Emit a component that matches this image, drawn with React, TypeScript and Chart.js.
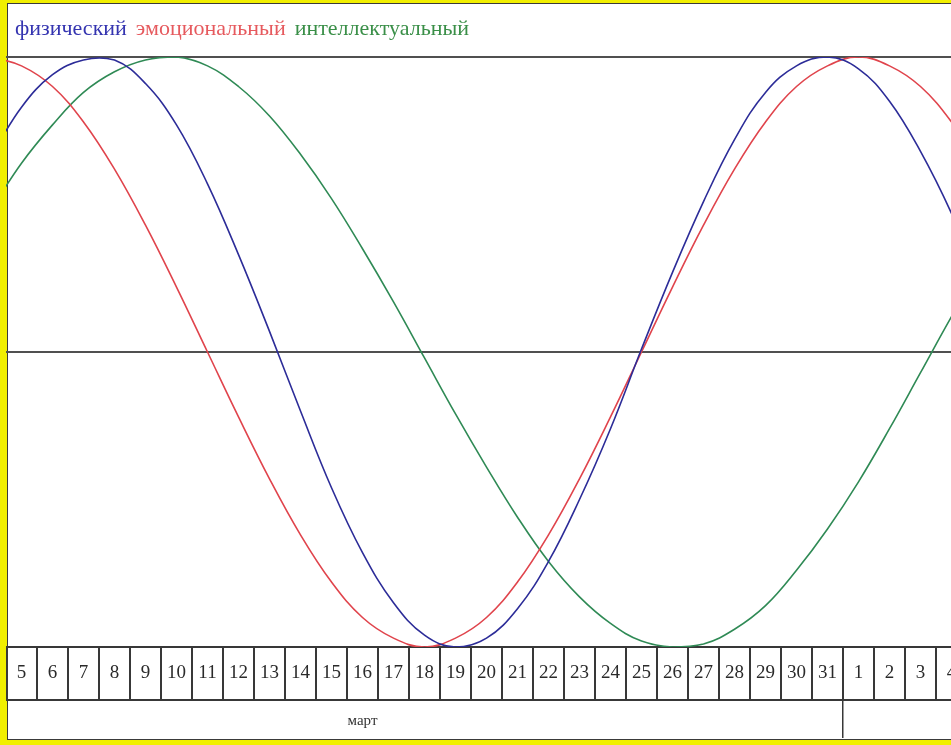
import React, { useEffect, useRef } from 'react';
import { Chart, registerables } from 'chart.js';

Chart.register(...registerables);

// Day cells shown under the chart (March 5 .. April 4)
const DAY_LABELS = [
  '5', '6', '7', '8', '9', '10', '11', '12', '13', '14', '15', '16', '17', '18', '19', '20',
  '21', '22', '23', '24', '25', '26', '27', '28', '29', '30', '31', '1', '2', '3', '4',
];
const MONTH_NAME = 'март';
const MONTH_CENTER_DAY = '16';
const NEXT_MONTH_FIRST_DAY = '1';

const SERIES_NAMES = ['физический', 'эмоциональный', 'интеллектуальный'];

// Values (in %) read per day, from March 4 (just left of the first cell) to April 5 (just right of the last)
const PHYSICAL = [
  66, 83, 94, 99, 99, 91, 77, 57, 33, 7, -20, -46, -68, -85, -96, -100, -97,
  -87, -71, -50, -26, 1, 27, 51, 72, 88, 97, 100, 96, 85, 68, 47, 22,
];
const EMOTIONAL = [
  100, 97, 90, 78, 62, 43, 22, 0, -22, -43, -62, -78, -90, -97, -100, -97, -90,
  -78, -62, -43, -22, 0, 22, 43, 62, 78, 90, 97, 100, 97, 90, 78, 62,
];
const INTELLECTUAL = [
  48, 64, 77, 88, 95, 99, 100, 97, 90, 80, 67, 52, 35, 17, -2, -21, -39,
  -56, -71, -83, -92, -98, -100, -99, -94, -86, -74, -60, -44, -26, -7, 12, 30,
];

const LINE_COLORS = ['#2c2c98', '#e0444c', '#2f8a55'];
const LEGEND_COLORS = ['#3434b0', '#e65a5e', '#3a8f48'];
const AXIS_COLOR = '#383838';
const GUIDE_COLOR = '#505050';
const FRAME_YELLOW = '#f1ef00';

export default function App() {
  const canvasRef = useRef<HTMLCanvasElement | null>(null);

  useEffect(() => {
    const canvas = canvasRef.current;
    if (!canvas) return;
    const dividerIndex = DAY_LABELS.indexOf(NEXT_MONTH_FIRST_DAY);
    const monthIndex = DAY_LABELS.indexOf(MONTH_CENTER_DAY);
    const seriesValues = [PHYSICAL, EMOTIONAL, INTELLECTUAL];

    const chart = new Chart(canvas, {
      type: 'line',
      data: {
        labels: DAY_LABELS,
        datasets: seriesValues.map((vals, s) => ({
          label: SERIES_NAMES[s],
          data: vals.map((v, k) => ({ x: k - 1, y: v })),
          xAxisID: 'xv',
          yAxisID: 'y',
          borderColor: LINE_COLORS[s],
          backgroundColor: LINE_COLORS[s],
          borderWidth: 1.6,
          pointRadius: 0,
          tension: 0.4,
          fill: false,
        })),
      },
      options: {
        animation: false,
        responsive: false,
        devicePixelRatio: 1,
        layout: { padding: { top: 8, left: 0, right: 0, bottom: 0 } },
        plugins: {
          tooltip: { enabled: false },
          legend: {
            display: true,
            position: 'top',
            align: 'start',
            labels: {
              boxWidth: 0,
              boxHeight: 36,
              padding: -2,
              font: { family: 'Liberation Serif', size: 22 },
              generateLabels: (c: any) =>
                c.data.datasets.map((ds: any, i: number) => ({
                  text: ds.label,
                  fontColor: LEGEND_COLORS[i],
                  fillStyle: 'rgba(0,0,0,0)',
                  strokeStyle: 'rgba(0,0,0,0)',
                  lineWidth: 0,
                  hidden: false,
                  datasetIndex: i,
                })),
            },
          },
        },
        scales: {
          xv: {
            type: 'linear',
            display: false,
            min: -0.5,
            max: DAY_LABELS.length - 0.5,
          },
          y: {
            type: 'linear',
            position: 'left',
            min: -100,
            max: 100,
            ticks: { display: false, stepSize: 100 },
            grid: {
              drawTicks: false,
              lineWidth: 2,
              color: (c: any) =>
                c.tick && (c.tick.value === 0 || c.tick.value === 100) ? GUIDE_COLOR : 'rgba(0,0,0,0)',
            },
            border: { display: false },
            afterFit: (s: any) => {
              s.width = 0;
            },
          },
          x: {
            type: 'category',
            position: 'bottom',
            offset: true,
            weight: 0,
            grid: {
              offset: true,
              drawOnChartArea: false,
              drawTicks: true,
              tickLength: 53,
              lineWidth: 2,
              color: AXIS_COLOR,
            },
            border: { display: true, color: AXIS_COLOR, width: 2 },
            ticks: {
              autoSkip: false,
              maxRotation: 0,
              minRotation: 0,
              padding: -38,
              color: '#2a2a2a',
              font: { family: 'Liberation Serif', size: 19 },
            },
            afterFit: (s: any) => {
              s.height = 53;
            },
          },
          xm: {
            type: 'category',
            position: 'bottom',
            offset: true,
            weight: 1,
            labels: DAY_LABELS,
            grid: {
              offset: true,
              drawOnChartArea: false,
              drawTicks: true,
              tickLength: 45,
              lineWidth: 1.5,
              color: (c: any) => (c.index === dividerIndex ? AXIS_COLOR : 'rgba(0,0,0,0)'),
            },
            border: { display: true, color: AXIS_COLOR, width: 2 },
            ticks: {
              autoSkip: false,
              maxRotation: 0,
              minRotation: 0,
              padding: -33,
              color: '#333333',
              font: { family: 'Liberation Serif', size: 15 },
              callback: (_v: any, i: number) => (i === monthIndex ? MONTH_NAME : ''),
            },
            afterFit: (s: any) => {
              s.height = 38;
            },
          },
        },
      } as any,
    });

    return () => {
      chart.destroy();
    };
  }, []);

  return (
    <div
      style={{
        position: 'fixed',
        left: 0,
        top: 0,
        width: 951,
        height: 745,
        background: FRAME_YELLOW,
        overflow: 'hidden',
      }}
    >
      <div
        style={{
          position: 'absolute',
          left: 7,
          top: 3,
          width: 1000,
          height: 737,
          boxSizing: 'border-box',
          border: '1px solid #3a3a3a',
          background: '#ffffff',
        }}
      />
      <canvas
        ref={canvasRef}
        width={961}
        height={733}
        style={{ position: 'absolute', left: 6, top: 5, width: 961, height: 733 }}
      />
    </div>
  );
}
